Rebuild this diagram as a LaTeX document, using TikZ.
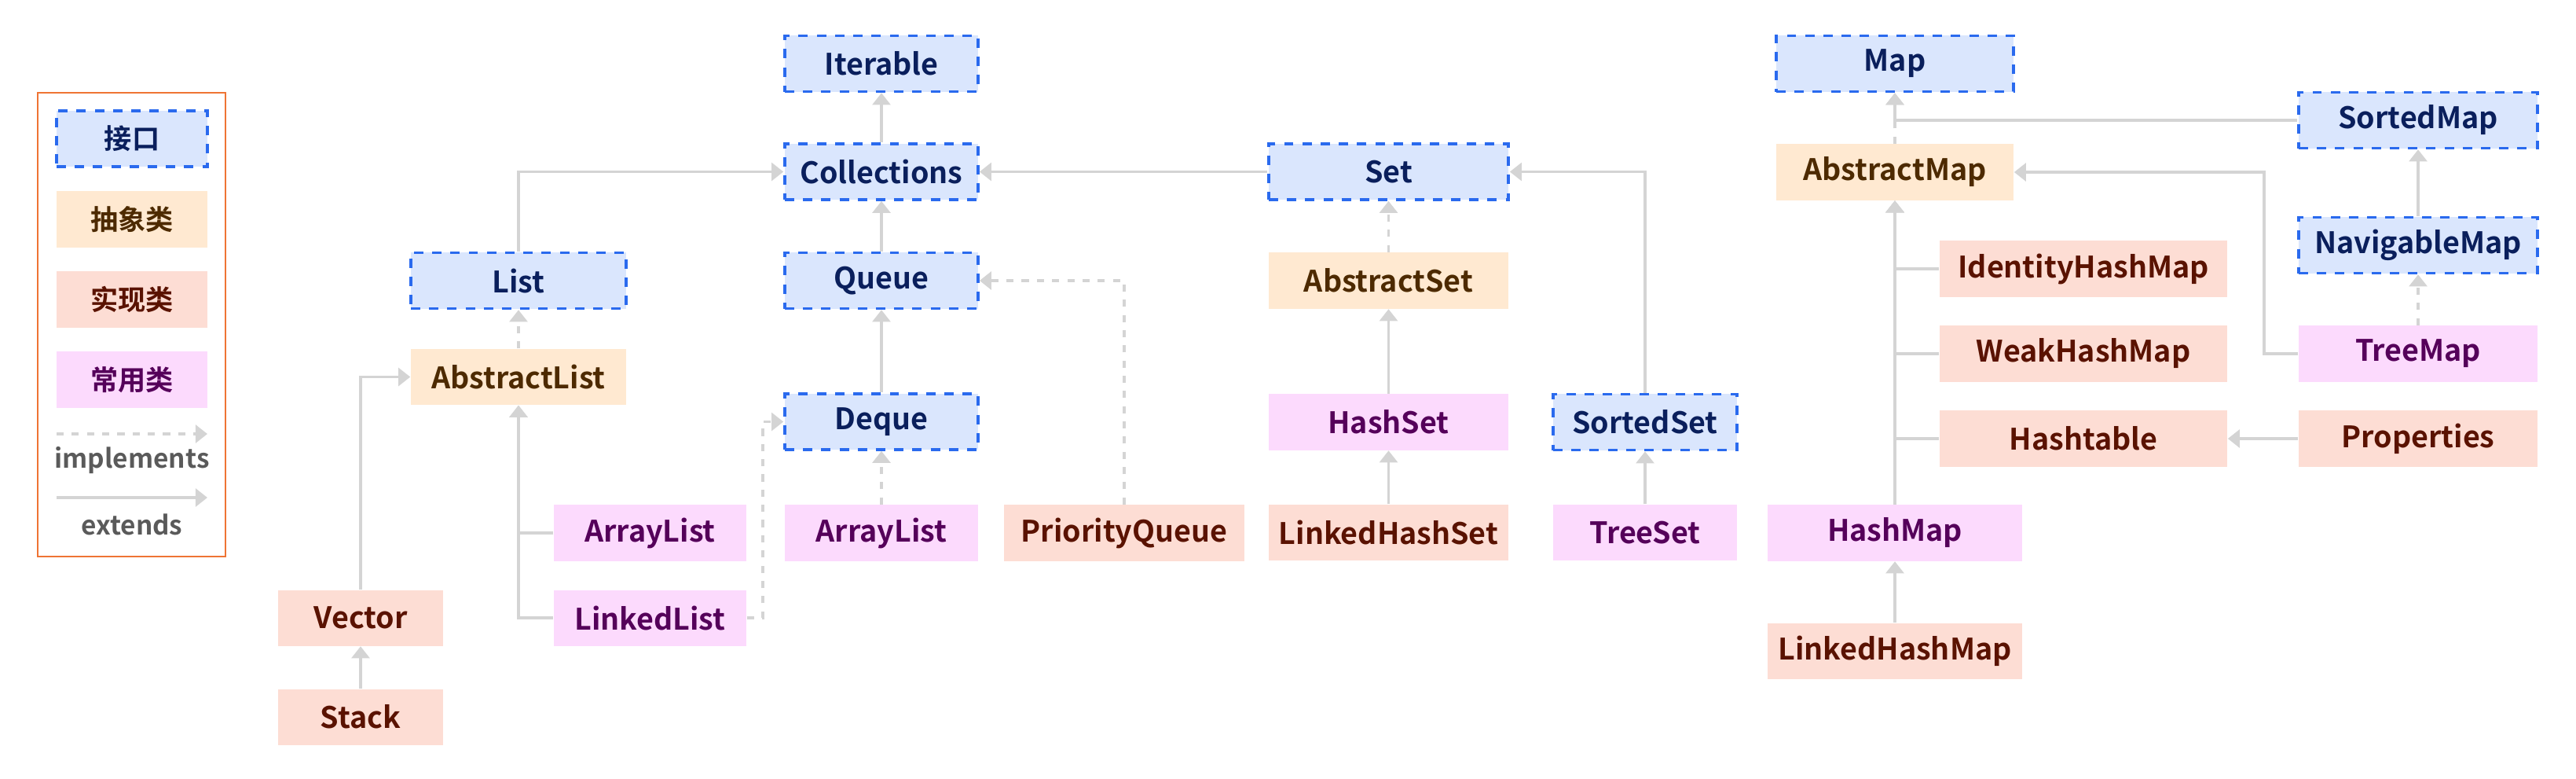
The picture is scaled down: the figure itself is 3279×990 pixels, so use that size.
\documentclass[tikz,border=0pt]{standalone}
\usepackage{fontspec}
\setmainfont{Noto Sans CJK SC}[BoldFont={Noto Sans CJK SC Bold}]
\usetikzlibrary{arrows.meta}
\definecolor{ifacefill}{HTML}{DAE6FD}
\definecolor{ifacedraw}{HTML}{2A6AEE}
\definecolor{ifacetext}{HTML}{0A1F5C}
\definecolor{absfill}{HTML}{FFE9D1}
\definecolor{abstext}{HTML}{4D2A00}
\definecolor{implfill}{HTML}{FDDDD4}
\definecolor{impltext}{HTML}{5A1200}
\definecolor{comfill}{HTML}{FCDAFD}
\definecolor{comtext}{HTML}{55005A}
\definecolor{linkgray}{HTML}{D4D4D4}
\definecolor{framecol}{HTML}{EF7434}
\definecolor{legtext}{HTML}{5A5A5A}
\begin{document}
\begin{tikzpicture}[x=0.01cm,y=-0.01cm]
	\tikzstyle{box}=[rectangle,inner sep=0pt,minimum height=0.71cm,font=\fontsize{10.7}{13}\selectfont\bfseries]
	\tikzstyle{iface}=[box,fill=ifacefill,draw=ifacedraw,line width=1pt,dash pattern=on 3.4pt off 3.2pt,text=ifacetext]
	\tikzstyle{abstr}=[box,fill=absfill,text=abstext]
	\tikzstyle{concrete}=[box,fill=implfill,text=impltext]
	\tikzstyle{common}=[box,fill=comfill,text=comtext]
	\tikzstyle{extend}=[draw=linkgray,line width=1pt,-{Triangle[length=4.3pt,width=6.5pt,fill=linkgray]}]
	\tikzstyle{implement}=[extend,dash pattern=on 2.6pt off 2.9pt]
	\tikzstyle{legtag}=[font=\fontsize{10}{12}\selectfont\bfseries,minimum width=1.92cm]
	\tikzstyle{legword}=[font=\fontsize{9.5}{11}\selectfont\bfseries,text=legtext,inner sep=0pt]
	\useasboundingbox (0,0) rectangle (3279,990);
	% legend
	\node [draw=framecol,line width=0.6pt,minimum width=2.39cm,minimum height=5.9cm] (legend) at (167.5,413) {};
	\node [iface,legtag] (lgiface) at (168,176.5) {接口};
	\node [abstr,legtag] (lgabs) at (168,279) {抽象类};
	\node [concrete,legtag] (lgimpl) at (168,381) {实现类};
	\node [common,legtag] (lgcom) at (168,483) {常用类};
	\coordinate (impa) at (72,552);
	\coordinate (impb) at (264,552);
	\coordinate (exta) at (72,633);
	\coordinate (extb) at (264,633);
	\draw [implement] (impa) -- (impb);
	\draw [extend] (exta) -- (extb);
	\node [legword] (lgimpw) at (168,586) {implements};
	\node [legword] (lgextw) at (168,667) {extends};
	% collection side
	\node [iface,minimum width=2.46cm] (iter) at (1122,81) {Iterable};
	\node [iface,minimum width=2.46cm] (coll) at (1122,218.5) {Collections};
	\node [iface,minimum width=2.46cm] (queue) at (1122,357) {Queue};
	\node [iface,minimum width=2.46cm] (deque) at (1122,536.5) {Deque};
	\node [common,minimum width=2.46cm] (alq) at (1122,678) {ArrayList};
	\node [concrete,minimum width=3.06cm] (pq) at (1431,678) {PriorityQueue};
	\node [iface,minimum width=2.74cm] (list) at (660,357) {List};
	\node [abstr,minimum width=2.74cm] (alist) at (660,479.5) {AbstractList};
	\node [common,minimum width=2.45cm] (arr) at (827.5,678) {ArrayList};
	\node [common,minimum width=2.45cm] (lnk) at (827.5,786) {LinkedList};
	\node [concrete,minimum width=2.10cm] (vec) at (459,786) {Vector};
	\node [concrete,minimum width=2.10cm] (stk) at (459,912) {Stack};
	\node [iface,minimum width=3.05cm] (set) at (1767.5,218.5) {Set};
	\node [abstr,minimum width=3.05cm] (aset) at (1767.5,357) {AbstractSet};
	\node [common,minimum width=3.05cm] (hset) at (1767.5,537) {HashSet};
	\node [concrete,minimum width=3.05cm] (lhset) at (1767.5,677.5) {LinkedHashSet};
	\node [iface,minimum width=2.34cm] (sset) at (2094,537) {SortedSet};
	\node [common,minimum width=2.34cm] (tset) at (2094,677.5) {TreeSet};
	% map side
	\node [iface,minimum width=3.02cm] (map) at (2412,81) {Map};
	\node [abstr,minimum width=3.02cm] (amap) at (2412,219) {AbstractMap};
	\node [iface,minimum width=3.04cm] (smap) at (3078,153) {SortedMap};
	\node [iface,minimum width=3.04cm] (nmap) at (3078,312) {NavigableMap};
	\node [common,minimum width=3.04cm] (tmap) at (3078,450) {TreeMap};
	\node [concrete,minimum width=3.66cm] (ihm) at (2652,342) {IdentityHashMap};
	\node [concrete,minimum width=3.66cm] (whm) at (2652,450) {WeakHashMap};
	\node [concrete,minimum width=3.66cm] (htab) at (2652,558) {Hashtable};
	\node [concrete,minimum width=3.04cm] (props) at (3078,558) {Properties};
	\node [common,minimum width=3.24cm] (hmap) at (2412,678) {HashMap};
	\node [concrete,minimum width=3.24cm] (lhmap) at (2412,828) {LinkedHashMap};
	% links
	\path[extend] (coll) edge (iter);
	\path[extend] (queue) edge (coll);
	\path[extend] (deque) edge (queue);
	\path[implement] (alq) edge (deque);
	\draw[implement] (pq.north) |- (queue.east);
	\draw[extend] (list.north) |- (coll.west);
	\path[implement] (alist) edge (list);
	\draw[extend] (arr.west) -| (alist.south);
	\draw[extend] (lnk.west) -| (alist.south);
	\draw[implement] (lnk.east) -- ++(20,0) |- (deque.west);
	\draw[extend] (vec.north) |- (alist.west);
	\path[extend] (stk) edge (vec);
	\path[extend] (set) edge (coll);
	\path[implement] (aset) edge (set);
	\path[extend] (hset) edge (aset);
	\path[extend] (lhset) edge (hset);
	\draw[extend] (sset.north) |- (set.east);
	\path[extend] (tset) edge (sset);
	\path[implement] (amap) edge (map);
	\draw[extend] (smap.west) -| (map.south);
	\path[extend] (nmap) edge (smap);
	\path[implement] (tmap) edge (nmap);
	\draw[extend] (tmap.west) -- ++(-43,0) |- (amap.east);
	\draw[extend] (ihm.west) -| (amap.south);
	\draw[extend] (whm.west) -| (amap.south);
	\draw[extend] (htab.west) -| (amap.south);
	\path[extend] (hmap) edge (amap);
	\path[extend] (lhmap) edge (hmap);
	\path[extend] (props) edge (htab);
\end{tikzpicture}
\end{document}
